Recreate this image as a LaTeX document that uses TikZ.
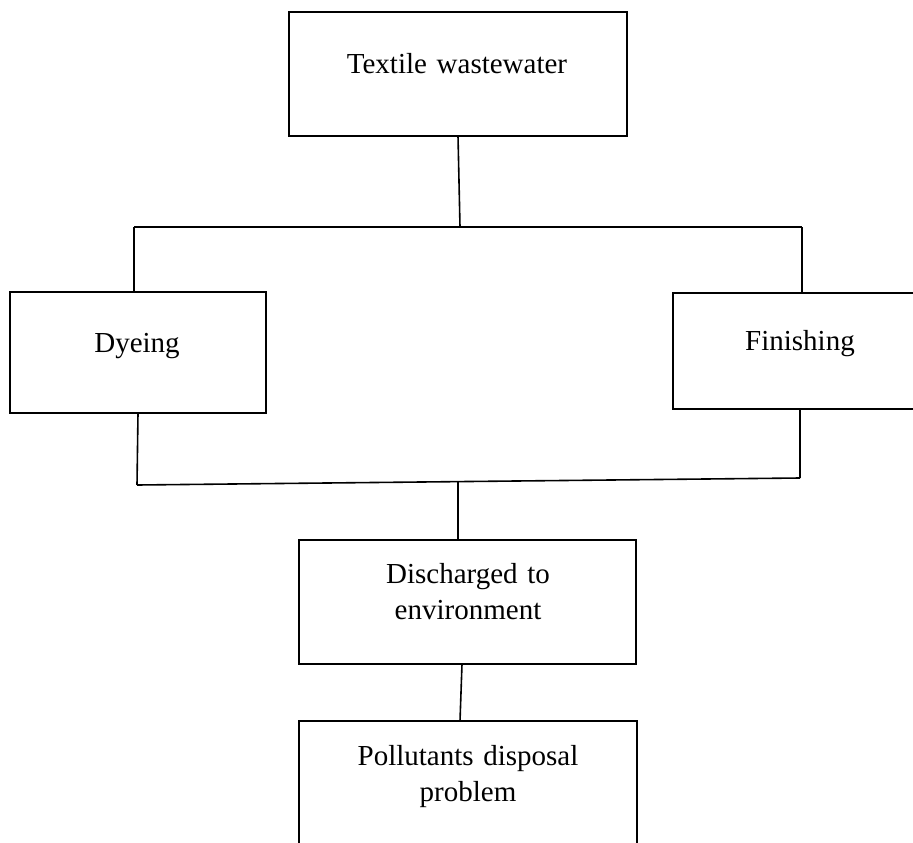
\documentclass[tikz,border=0pt]{standalone}
\usepackage{fontspec}
\setmainfont{Liberation Serif}
\usetikzlibrary{calc}
\begin{document}
\begin{tikzpicture}[x=0.75pt,y=-0.75pt,
  box/.style={draw=black,line width=2.2pt,rectangle,inner sep=0pt,outer sep=0pt},
  wire/.style={draw=black,line width=1.2pt},
  lbl/.style={inner sep=0pt,anchor=base,font=\fontsize{21.75}{27}\selectfont,align=center,text width=330pt}]
\useasboundingbox (0,0) rectangle (913,842);
\fill[white] (0,0) rectangle (913,842);
\clip (0,0) rectangle (913,842);
% boxes
\node[box,minimum width=338*0.75pt,minimum height=124*0.75pt] (tw) at (458,74) {};
\node[box,minimum width=256*0.75pt,minimum height=121*0.75pt] (dy) at (138,352.5) {};
\node[box,minimum width=270*0.75pt,minimum height=116*0.75pt] (fi) at (808,351) {};
\node[box,minimum width=337*0.75pt,minimum height=124*0.75pt] (dc) at (467.5,602) {};
\node[box,minimum width=338*0.75pt,minimum height=134*0.75pt] (pd) at (468,788) {};
% texts
\node[lbl] (ttw) at (457,74) {Textile wastewater};
\node[lbl] (tdy) at (137,352) {Dyeing};
\node[lbl] (tfi) at (800,350) {Finishing};
\node[lbl] (tdc) at (468,583) {Discharged to\\environment};
\node[lbl] (tpd) at (468,765) {Pollutants disposal\\problem};
% junction coordinates
\coordinate (j1) at (460,227);
\coordinate (jl) at (134,227);
\coordinate (jr) at (802,227);
\coordinate (bl) at (137,485);
\coordinate (br) at (800,478);
\coordinate (bm) at (458,482);
% connectors
\draw[wire] (tw.south) -- (j1);
\draw[wire] (jl) -- (jr);
\draw[wire] (jl) -- (jl |- dy.north);
\draw[wire] (jr) -- (jr |- fi.north);
\draw[wire] (dy.south) -- (bl);
\draw[wire] ($(fi.south)+(-8,0)$) -- (br);
\draw[wire] (bl) -- (br);
\draw[wire] (bm) -- (bm |- dc.north);
\draw[wire] ($(dc.south)+(-5.5,0)$) -- ($(pd.north)+(-8,0)$);
\end{tikzpicture}
\end{document}
